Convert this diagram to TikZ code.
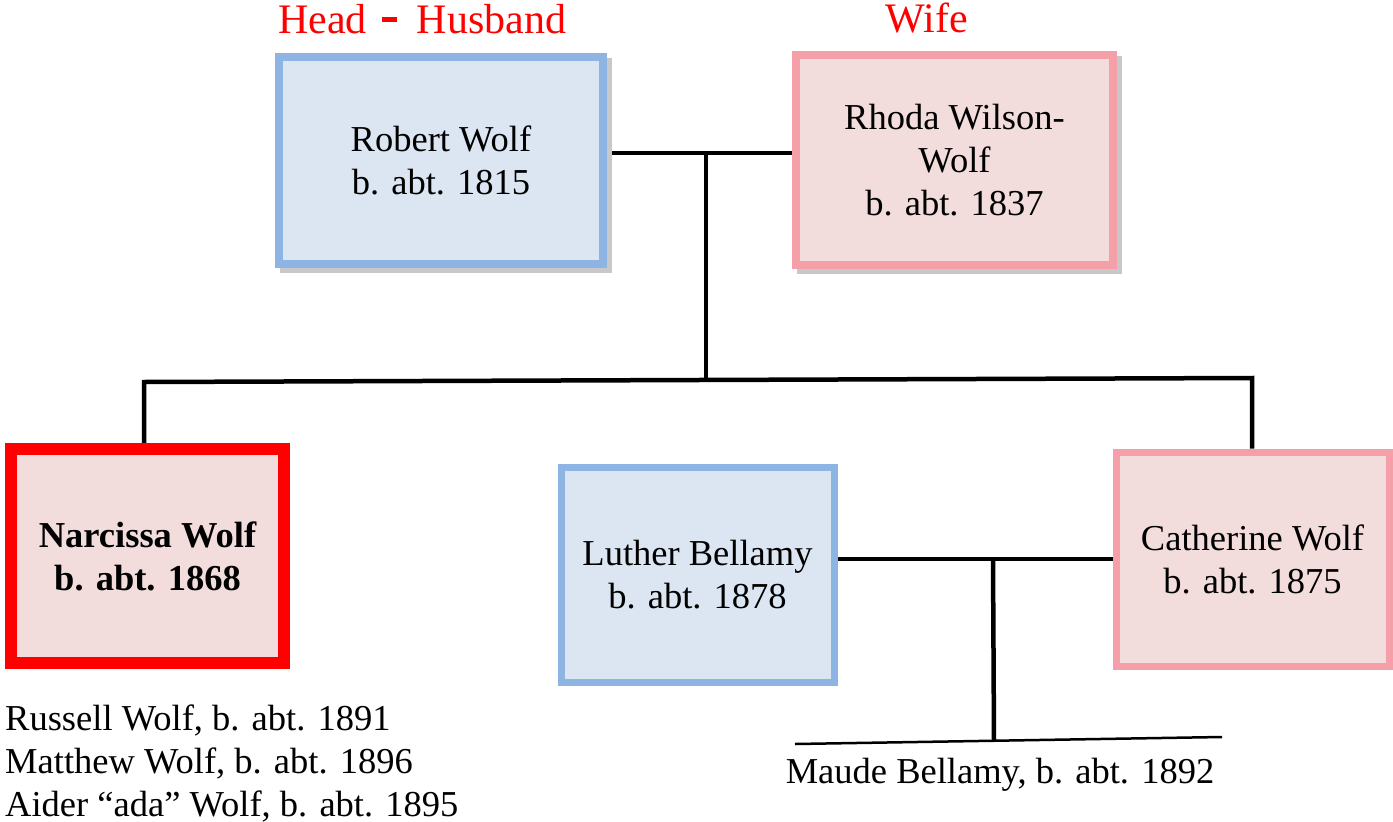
\documentclass[tikz,border=0pt]{standalone}
\usepackage{fontspec}
\setmainfont{Liberation Serif}
\newfontfamily\tnr{Liberation Serif}
\usetikzlibrary{shadows}
\pgfdeclarelayer{background}
\pgfsetlayers{background,main}
\definecolor{bluebd}{RGB}{141,180,227}
\definecolor{bluefill}{RGB}{220,230,242}
\definecolor{pinkbd}{RGB}{245,160,168}
\definecolor{pinkfill}{RGB}{242,220,220}
\definecolor{redlab}{RGB}{255,0,0}
\definecolor{shadowgray}{RGB}{200,200,200}
\tikzset{
  person/.style={rectangle, align=center, inner sep=0pt, font=\tnr\fontsize{36.5}{43}\selectfont},
  male/.style={person, draw=bluebd, fill=bluefill},
  female/.style={person, draw=pinkbd, fill=pinkfill},
  shad/.style={drop shadow={shadow xshift=5pt, shadow yshift=-5pt, opacity=1, fill=shadowgray, draw=shadowgray}},
  conn/.style={line width=4.5pt, draw=black, line join=miter},
  thinconn/.style={line width=2.5pt, draw=black},
  plain/.style={inner sep=0pt, font=\tnr\fontsize{36.5}{43}\selectfont},
  redl/.style={inner sep=0pt, text=redlab, font=\tnr\fontsize{42}{48}\selectfont}
}
\begin{document}
\begin{tikzpicture}[x=1pt,y=-1pt]
\useasboundingbox (0,0) rectangle (1393,822);
% labels
\node[redl, anchor=base west] (headlab) at (278,33) {Head\hspace{15pt}\rule[11pt]{15pt}{5pt}\hspace{20pt}Husband};
\node[redl, anchor=base] (wifelab) at (927,32) {Wife};
% boxes
\node[male, shad, line width=8pt, minimum width=324pt, minimum height=207pt] (robert) at (441,160.5) {Robert Wolf\\b. abt. 1815};
\node[female, shad, line width=8pt, minimum width=317pt, minimum height=210pt] (rhoda) at (954.5,160) {Rhoda Wilson-\\Wolf\\b. abt. 1837};
\node[person, draw=redlab, fill=pinkfill, line width=12pt, minimum width=273pt, minimum height=214pt] (narcissa) at (147.5,556) {\bfseries Narcissa Wolf\\\bfseries b. abt. 1868};
\node[male, line width=7pt, minimum width=273pt, minimum height=215pt] (luther) at (697.5,574.5) {Luther Bellamy\\b. abt. 1878};
\node[female, line width=7pt, minimum width=273pt, minimum height=214pt] (catherine) at (1252.5,559) {Catherine Wolf\\b. abt. 1875};
% children text
\node[plain, anchor=base west] (c1) at (5,730) {Russell Wolf, b. abt. 1891};
\node[plain, anchor=base west] (c2) at (5,773) {Matthew Wolf, b. abt. 1896};
\node[plain, anchor=base west] (c3) at (5,816) {Aider “ada” Wolf, b. abt. 1895};
\node[plain, anchor=base] (maude) at (1000,783) {Maude Bellamy, b. abt. 1892};
% connector points
\coordinate (m1) at (706,153);
\coordinate (m2) at (706,380);
\coordinate (sl) at (144,382);
\coordinate (sr) at (1252,378);
\coordinate (m3) at (993,559);
\coordinate (m4) at (994,741);
\coordinate (ml) at (795,744);
\coordinate (mr) at (1222,737);
\begin{pgfonlayer}{background}
\draw[conn] (robert.east |- m1) -- (rhoda.west |- m1);
\draw[conn] (m1) -- (m2);
\draw[conn] (narcissa.north -| sl) -- (sl) -- (sr) -- (sr |- catherine.north);
\draw[conn] (luther.east |- m3) -- (catherine.west |- m3);
\draw[conn] (m3) -- (m4);
\draw[thinconn] (ml) -- (mr);
\end{pgfonlayer}
\end{tikzpicture}
\end{document}
